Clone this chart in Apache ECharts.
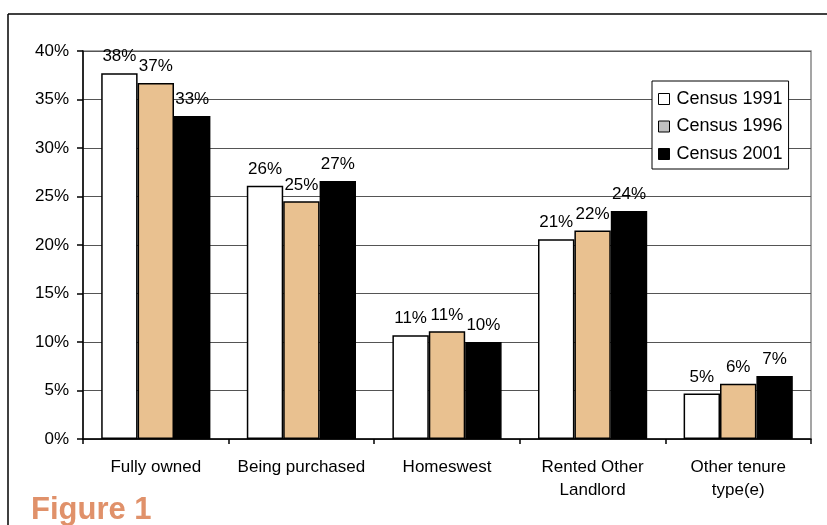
<!DOCTYPE html>
<html>
<head>
<meta charset="utf-8">
<script src="https://cdn.jsdelivr.net/npm/echarts@6/dist/echarts.min.js"></script>
<style>
html,body{margin:0;padding:0;background:#fff;}
#chart{width:827px;height:525px;}
</style>
</head>
<body>
<div id="chart"></div>
<script>
var categories = ['Fully owned', 'Being purchased', 'Homeswest', 'Rented Other\nLandlord', 'Other tenure\ntype(e)'];
var census1991 = [37.7, 26.1, 10.7, 20.6, 4.7];
var census1996 = [36.7, 24.5, 11.1, 21.5, 5.7];
var census2001 = [33.3, 26.6, 10.0, 23.5, 6.5];
var seriesNames = ['Census 1991', 'Census 1996', 'Census 2001'];
var yTicks = [0, 5, 10, 15, 20, 25, 30, 35, 40];

var chart = echarts.init(document.getElementById('chart'), null, {renderer: 'canvas'});
var font = 'Arial, "Liberation Sans", sans-serif';
var lbl = {
  show: true, position: 'top', distance: 8,
  fontFamily: font, fontSize: 17, color: '#000',
  formatter: function (p) { return Math.round(p.value) + '%'; }
};
function mk(name, data, color) {
  return {
    name: name, type: 'bar', data: data, barGap: '0%', barCategoryGap: '25%',
    itemStyle: {color: color, borderColor: '#000', borderWidth: 1.5},
    label: lbl
  };
}
chart.setOption({
  animation: false,
  backgroundColor: '#fff',
  grid: {left: 83, right: 16, top: 51, bottom: 86, show: true, borderColor: '#888', borderWidth: 1.5, backgroundColor: 'transparent'},
  legend: {
    orient: 'vertical', left: 652, top: 81,
    backgroundColor: '#fff', borderColor: '#000', borderWidth: 1,
    padding: [9, 6, 6, 6], itemGap: 9.5,
    itemWidth: 11, itemHeight: 11, icon: 'rect',
    textStyle: {fontFamily: font, fontSize: 18, color: '#000', padding: [0, 0, 0, 2]},
    data: [
      {name: seriesNames[0], itemStyle: {color: '#fff', borderColor: '#000', borderWidth: 1}},
      {name: seriesNames[1], itemStyle: {color: '#c0c0c0', borderColor: '#000', borderWidth: 1}},
      {name: seriesNames[2], itemStyle: {color: '#000', borderColor: '#000', borderWidth: 1}}
    ]
  },
  xAxis: {
    type: 'category', data: categories,
    axisLine: {lineStyle: {color: '#000', width: 1.5}},
    axisTick: {show: true, length: 5, lineStyle: {color: '#000', width: 1.5}},
    axisLabel: {interval: 0, fontFamily: font, fontSize: 17, color: '#000', margin: 17, lineHeight: 23}
  },
  yAxis: {
    type: 'value', min: yTicks[0], max: yTicks[yTicks.length - 1], interval: 5,
    axisLine: {show: true, lineStyle: {color: '#000', width: 1.5}},
    axisTick: {show: true, length: 6, inside: false, lineStyle: {color: '#000', width: 1.5}},
    axisLabel: {fontFamily: font, fontSize: 17, color: '#000', margin: 14, formatter: '{value}%'},
    splitLine: {show: true, lineStyle: {color: '#555', width: 1.2}}
  },
  series: [
    mk(seriesNames[0], census1991, '#fff'),
    mk(seriesNames[1], census1996, '#e9c190'),
    mk(seriesNames[2], census2001, '#000')
  ],
  graphic: [
    {type: 'line', shape: {x1: 8, y1: 14, x2: 827, y2: 14}, style: {stroke: '#000', lineWidth: 1.5}},
    {type: 'line', shape: {x1: 8, y1: 14, x2: 8, y2: 525}, style: {stroke: '#000', lineWidth: 1.5}},
    {type: 'text', left: 31, top: 495, style: {text: 'Figure 1', fontFamily: font, fontSize: 31, fontWeight: 'bold', fill: '#e0916a'}}
  ]
});
</script>
</body>
</html>
